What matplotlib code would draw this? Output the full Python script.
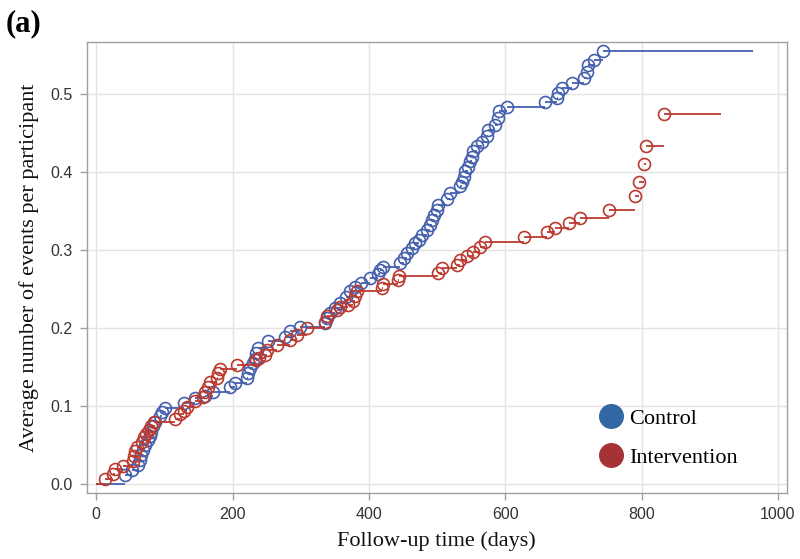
import matplotlib
matplotlib.use("Agg")
import matplotlib.pyplot as plt
from matplotlib.lines import Line2D
import numpy as np

# Control: event times (days) and mean cumulative number of events
ctrl_t = [42, 52, 61, 64, 66, 69, 71, 76, 79, 81,
          83, 86, 93, 96, 101, 128, 145, 159, 172, 196,
          203, 221, 223, 225, 230, 233, 235, 238, 252, 277,
          284, 299, 336, 338, 343, 350, 358, 367, 372, 380,
          389, 402, 414, 416, 421, 446, 451, 456, 463, 468,
          473, 478, 485, 490, 492, 495, 500, 502, 514, 519,
          534, 536, 539, 541, 546, 548, 551, 553, 558, 566,
          573, 575, 585, 590, 591, 602, 659, 676, 678, 683,
          698, 715, 720, 722, 730, 744]
ctrl_y = [0.011, 0.018, 0.024, 0.031, 0.037, 0.044, 0.050, 0.056, 0.062, 0.067,
          0.074, 0.080, 0.087, 0.093, 0.097, 0.104, 0.110, 0.113, 0.118, 0.125,
          0.129, 0.136, 0.142, 0.149, 0.155, 0.161, 0.168, 0.174, 0.184, 0.189,
          0.196, 0.201, 0.206, 0.213, 0.219, 0.226, 0.232, 0.240, 0.247, 0.253,
          0.258, 0.264, 0.270, 0.275, 0.279, 0.283, 0.290, 0.296, 0.303, 0.309,
          0.313, 0.320, 0.326, 0.332, 0.339, 0.345, 0.352, 0.358, 0.365, 0.373,
          0.382, 0.388, 0.394, 0.401, 0.407, 0.414, 0.420, 0.427, 0.433, 0.439,
          0.446, 0.454, 0.461, 0.469, 0.478, 0.484, 0.490, 0.495, 0.502, 0.508,
          0.514, 0.521, 0.529, 0.537, 0.544, 0.555]
ctrl_end = 964

# Intervention
int_t = [13, 25, 28, 39, 54, 56, 57, 60, 67, 70,
         73, 77, 81, 85, 115, 123, 128, 133, 145, 157,
         159, 164, 167, 177, 179, 181, 206, 235, 239, 247,
         250, 265, 284, 294, 309, 336, 338, 353, 358, 370,
         377, 380, 382, 419, 421, 443, 444, 502, 507, 529,
         534, 544, 553, 563, 571, 627, 661, 673, 693, 709,
         752, 791, 797, 803, 807, 833]
int_y = [0.006, 0.013, 0.019, 0.023, 0.030, 0.036, 0.042, 0.048, 0.054, 0.060,
         0.064, 0.069, 0.074, 0.080, 0.084, 0.090, 0.094, 0.099, 0.106, 0.112,
         0.118, 0.125, 0.131, 0.136, 0.142, 0.148, 0.153, 0.159, 0.162, 0.166,
         0.172, 0.178, 0.185, 0.191, 0.200, 0.208, 0.216, 0.223, 0.227, 0.230,
         0.235, 0.241, 0.247, 0.252, 0.257, 0.262, 0.267, 0.271, 0.277, 0.281,
         0.288, 0.293, 0.298, 0.304, 0.310, 0.317, 0.323, 0.329, 0.335, 0.341,
         0.352, 0.370, 0.388, 0.411, 0.433, 0.475]
int_end = 917

labels = ["Control", "Intervention"]
line_colors = ["#4560ad", "#bb3a30"]
legend_colors = ["#3367a4", "#a73236"]

serif = ["Liberation Serif", "DejaVu Serif"]
sans = ["Liberation Sans", "DejaVu Sans"]

fig = plt.figure(figsize=(8.0, 5.59), dpi=100)
ax = fig.add_axes([0.1084, 0.1180, 0.8750, 0.8068])

def draw(ts, ys, end, color, z):
    xs = [0] + list(ts)
    yv = [0] + list(ys)
    xe = list(ts) + [end]
    ax.hlines(yv, xs, xe, colors=color, linewidth=1.3, zorder=z)
    ax.plot(ts, ys, linestyle="none", marker="o", markersize=8.6,
            markerfacecolor="none", markeredgecolor=color,
            markeredgewidth=1.2, zorder=z + 0.5)

draw(ctrl_t, ctrl_y, ctrl_end, line_colors[0], 3)
draw(int_t, int_y, int_end, line_colors[1], 4)

ax.set_xlim(-14, 1013)
ax.set_ylim(-0.0116, 0.567)
ax.set_xticks([0, 200, 400, 600, 800, 1000])
ax.set_yticks([0.0, 0.1, 0.2, 0.3, 0.4, 0.5])
ax.set_yticklabels(["0.0", "0.1", "0.2", "0.3", "0.4", "0.5"])
ax.grid(True, color="#e3e3e3", linewidth=1.0, zorder=0)
ax.set_axisbelow(True)
for s in ax.spines.values():
    s.set_color("#a0a0a0")
    s.set_linewidth(1.0)
ax.tick_params(axis="both", direction="out", length=5, width=1.0,
               color="#a0a0a0", labelcolor="#333333", labelsize=11.5, pad=5)
for lab in ax.get_xticklabels() + ax.get_yticklabels():
    lab.set_family(sans)

ax.set_xlabel("Follow-up time (days)", family=serif, fontsize=16, color="#111111", labelpad=7)
ax.set_ylabel("Average number of events per participant", family=serif, fontsize=16,
              color="#111111", labelpad=8)

handles = [Line2D([], [], linestyle="none", marker="o", markersize=17,
                  markerfacecolor=c, markeredgecolor=c) for c in legend_colors]
leg = ax.legend(handles, labels, loc="center left", bbox_to_anchor=(0.705, 0.122),
                frameon=False, prop={"family": serif, "size": 16},
                handletextpad=0.3, labelspacing=0.85, handlelength=1.0)

fig.text(0.007, 0.957, "(a)", family=serif, fontsize=22, fontweight="bold",
         ha="left", va="center")

fig.savefig("out.png", dpi=100)
